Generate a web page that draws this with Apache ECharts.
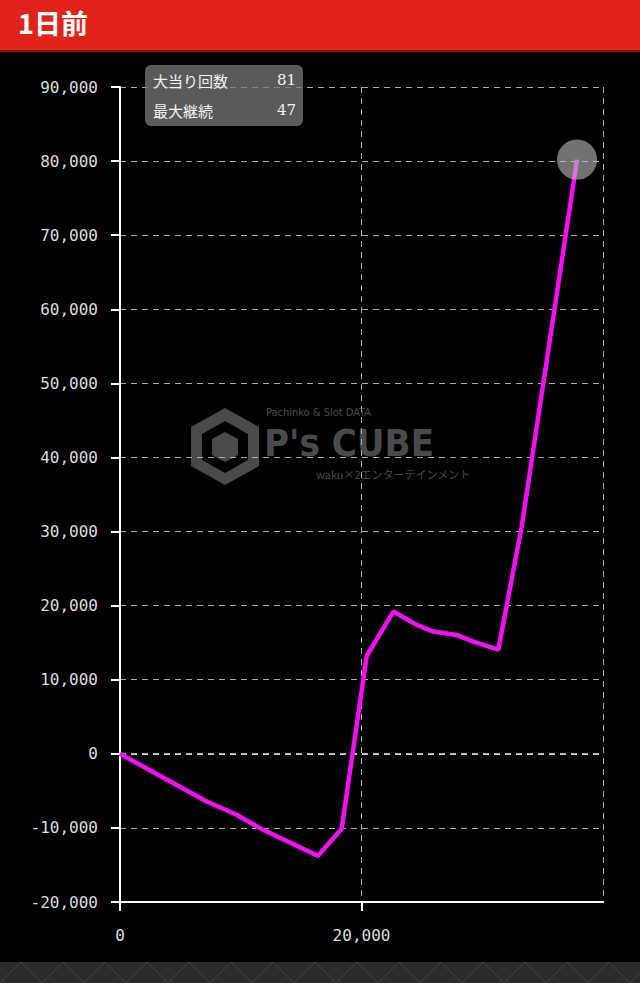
<!DOCTYPE html>
<html><head><meta charset="utf-8">
<script src="https://cdn.jsdelivr.net/npm/echarts@6/dist/echarts.min.js"></script>
<style>html,body{margin:0;padding:0;background:#000;}#c{width:640px;height:983px;}</style>
</head><body><div id="c"></div>
<script>
const titleText = '1日前';
const infoLabels = ['大当り回数', '最大継続'];
const infoValues = ['81', '47'];
const spins = [0, 7180, 9660, 11850, 16400, 18360, 20430, 22640, 24570, 25950, 27880, 29260, 31330, 33260, 37850];
const balance = [0, -6440, -8230, -10260, -13770, -10120, 13200, 19200, 17400, 16500, 16050, 15150, 14050, 30600, 80200];
const yTicks = { min: -20000, max: 90000, interval: 10000 };
const xTicks = { min: 0, max: 40000, interval: 20000 };

const chart = echarts.init(document.getElementById('c'), null, { renderer: 'svg' });
const pts = spins.map((x, i) => [x, balance[i]]);
const last = pts[pts.length - 1];
const fmt = v => v.toLocaleString('en-US');
const sh = { shadowColor: '#000', shadowBlur: 2, shadowOffsetX: 1, shadowOffsetY: 1 };

chart.setOption({
  animation: false,
  backgroundColor: '#000',
  grid: { left: 120, right: 37, top: 87, bottom: 81 },
  xAxis: {
    type: 'value', min: xTicks.min, max: xTicks.max, interval: xTicks.interval,
    axisLine: { show: true, onZero: false, lineStyle: { color: '#fff', width: 2 } },
    axisTick: { show: true, length: 9, lineStyle: { color: '#fff', width: 2 } },
    axisLabel: { showMaxLabel: false, margin: 25, color: '#dcdcdc', fontFamily: 'DejaVu Sans Mono', fontSize: 16, formatter: fmt },
    splitLine: { show: true, lineStyle: { color: '#aaa', type: [6, 5], width: 1 } }
  },
  yAxis: {
    type: 'value', min: yTicks.min, max: yTicks.max, interval: yTicks.interval,
    axisLine: { show: true, onZero: false, lineStyle: { color: '#fff', width: 2 } },
    axisTick: { show: true, length: 9, lineStyle: { color: '#fff', width: 2 } },
    axisLabel: { margin: 22, color: '#dcdcdc', fontFamily: 'DejaVu Sans Mono', fontSize: 16, formatter: fmt },
    splitLine: { show: true, lineStyle: { color: '#aaa', type: [6, 5], width: 1 } }
  },
  graphic: [
    { type: 'rect', shape: { x: 0, y: 0, width: 640, height: 52 }, style: { fill: '#df231b' }, z: 10 },
    { type: 'rect', shape: { x: 0, y: 50, width: 640, height: 2 }, style: { fill: '#8a120d' }, z: 10 },
    { type: 'text', left: 18, top: 9, z: 11, style: Object.assign({ text: titleText, fill: '#fff', font: 'bold 27px "Noto Sans CJK JP"' }, { shadowColor: 'rgba(0,0,0,0.8)', shadowBlur: 2, shadowOffsetX: 2, shadowOffsetY: 2 }) },
    { type: 'rect', shape: { x: 0, y: 962, width: 640, height: 21 }, style: { fill: '#2b2b2b' }, z: 10 },
    { type: 'polyline', z: 11, shape: { points: [[0,983],[21,962],[42,983],[63,962],[84,983],[105,962],[126,983],[147,962],[168,983],[189,962],[210,983],[231,962],[252,983],[273,962],[294,983],[315,962],[336,983],[357,962],[378,983],[399,962],[420,983],[441,962],[462,983],[483,962],[504,983],[525,962],[546,983],[567,962],[588,983],[609,962],[630,983],[651,962]] }, style: { stroke: '#444', lineWidth: 1, fill: null } },
    { type: 'group', z: -1, children: [
      { type: 'polygon', shape: { points: [[225,408],[259,427],[259,466],[225,485],[191,466],[191,427]] }, style: { fill: '#4a4a4a' } },
      { type: 'polygon', shape: { points: [[225,421],[248,434],[248,460],[225,473],[202,460],[202,434]] }, style: { fill: '#000' } },
      { type: 'polygon', shape: { points: [[225,432],[238,439],[238,455],[225,462],[212,455],[212,439]] }, style: { fill: '#4a4a4a' } },
      { type: 'text', x: 266, y: 407, style: { text: 'Pachinko & Slot DATA', fill: '#4a4a4a', font: '11px "DejaVu Sans Condensed"' } },
      { type: 'text', x: 264, y: 424, style: { text: "P's CUBE", fill: '#4a4a4a', font: 'bold 38px "DejaVu Sans Condensed"' } },
      { type: 'text', x: 316, y: 468, style: { text: 'waku×2エンターテインメント', fill: '#4a4a4a', font: '11px "Noto Sans CJK JP"' } }
    ]},
    { type: 'rect', z: 20, shape: { x: 145, y: 65, width: 158, height: 61, r: 6 }, style: { fill: 'rgba(120,120,120,0.75)' } },
    { type: 'text', z: 21, x: 153, y: 80, style: Object.assign({ text: infoLabels[0], fill: '#f2f2f2', font: '15px "Noto Sans CJK JP"', verticalAlign: 'middle' }, sh) },
    { type: 'text', z: 21, x: 296, y: 80, style: Object.assign({ text: infoValues[0], fill: '#f2f2f2', font: '15px "DejaVu Serif"', align: 'right', verticalAlign: 'middle' }, sh) },
    { type: 'text', z: 21, x: 153, y: 110, style: Object.assign({ text: infoLabels[1], fill: '#f2f2f2', font: '15px "Noto Sans CJK JP"', verticalAlign: 'middle' }, sh) },
    { type: 'text', z: 21, x: 296, y: 110, style: Object.assign({ text: infoValues[1], fill: '#f2f2f2', font: '15px "DejaVu Serif"', align: 'right', verticalAlign: 'middle' }, sh) }
  ],
  series: [
    {
      type: 'line', data: pts, symbol: 'none', z: 5,
      lineStyle: { color: '#f40ff4', width: 4.5 },
      markLine: { silent: true, symbol: 'none', label: { show: false }, lineStyle: { color: '#e6e6e6', type: [6, 5], width: 1.5 }, data: [{ yAxis: 0 }] }
    },
    {
      type: 'scatter', data: [last], symbol: 'circle', symbolSize: 40, z: 6,
      itemStyle: { color: 'rgba(190,190,190,0.75)' }
    }
  ]
});
</script></body></html>
